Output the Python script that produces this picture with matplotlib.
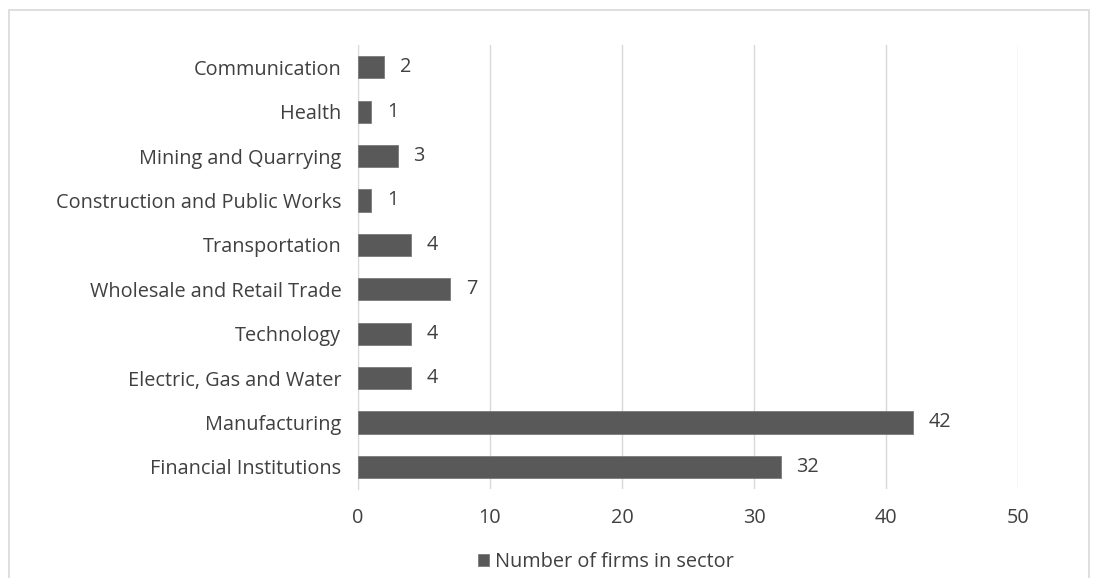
import matplotlib.pyplot as plt
from matplotlib.patches import Rectangle

# Data (top to bottom as shown)
sectors = ['Communication', 'Health', 'Mining and Quarrying',
           'Construction and Public Works', 'Transportation',
           'Wholesale and Retail Trade', 'Technology',
           'Electric, Gas and Water', 'Manufacturing', 'Financial Institutions']
firms = [2, 1, 3, 1, 4, 7, 4, 4, 42, 32]
x_ticks = [0, 10, 20, 30, 40, 50]

plt.rcParams['font.family'] = ['Open Sans', 'DejaVu Sans']
fs = 14.3
txt = '#404040'

fig = plt.figure(figsize=(10.96, 5.78), dpi=100)
ax = fig.add_axes([0.3266, 0.154, 0.929 - 0.3266, 0.922 - 0.154])

bar_color = '#595959'
y = list(range(len(sectors)))[::-1]
bars = ax.barh(y, firms, height=0.5, color=bar_color, edgecolor='#7a7a7a',
               linewidth=0.6, label='Number of firms in sector', zorder=3)

for yi, v in zip(y, firms):
    ax.text(v + 1.2, yi, str(v), va='center', ha='left', fontsize=fs,
            color=txt)

ax.set_yticks(y)
ax.set_yticklabels(sectors, fontsize=fs, color=txt)
ax.set_ylim(-0.5, len(sectors) - 0.5)
ax.set_xlim(0, 50)
ax.set_xticks(x_ticks)
ax.set_xticklabels([str(t) for t in x_ticks], fontsize=fs, color=txt)
ax.tick_params(axis='y', length=0, pad=12)
ax.tick_params(axis='x', length=0, pad=14)

ax.grid(axis='x', color='#d9d9d9', linewidth=1, zorder=0)
for s in ['top', 'right', 'bottom']:
    ax.spines[s].set_visible(False)
ax.spines['left'].set_color('#d9d9d9')

leg = fig.legend(handles=[bars], labels=['Number of firms in sector'],
                 loc='center', bbox_to_anchor=(0.553, 0.028), frameon=False,
                 fontsize=fs, handlelength=0.55, handleheight=0.55,
                 handletextpad=0.3, labelcolor=txt)

# outer chart border
fig.add_artist(Rectangle((0.008, -0.01), 0.986, 0.993, transform=fig.transFigure,
                         fill=False, edgecolor='#d9d9d9', linewidth=1.2))

fig.savefig('out.png', dpi=100)
